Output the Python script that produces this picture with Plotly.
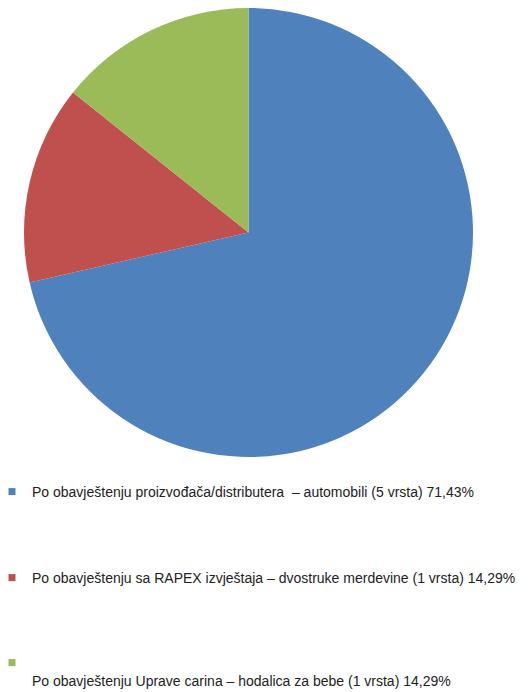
import plotly.graph_objects as go

labels = [
    "Po obavještenju proizvođača/distributera  – automobili (5 vrsta) 71,43%",
    "Po obavještenju sa RAPEX izvještaja – dvostruke merdevine (1 vrsta) 14,29%",
    "Po obavještenju Uprave carina – hodalica za bebe (1 vrsta) 14,29%",
]
values = [5, 1, 1]
colors = ["#4F81BD", "#C0504D", "#9BBB59"]

# the page adds an 8px body margin, so the figure is sized to fit the window
W, H = 522, 684
fig = go.Figure()

fig.add_trace(go.Pie(
    labels=labels,
    values=values,
    marker=dict(colors=colors, line=dict(width=0)),
    sort=False,
    direction="clockwise",
    rotation=0,
    textinfo="none",
    hoverinfo="label+percent",
    showlegend=False,
    domain=dict(x=[14/W, 467/W], y=[1-449/H, 1.0]),
))

# legend entries (one legend each, so they can be placed like the original)
legend_names = ["legend", "legend2", "legend3"]
legend_texts = [labels[0], labels[1], " <br>" + labels[2]]
legend_y = [484, 570, 664]
for name, txt, col in zip(legend_names, legend_texts, colors):
    fig.add_trace(go.Scatter(
        x=[None], y=[None], mode="markers", name=txt,
        marker=dict(symbol="square", size=7, color=col),
        legend=name, showlegend=True, hoverinfo="skip",
    ))

leg_common = dict(
    xanchor="left", yanchor="middle", orientation="v", valign="top",
    font=dict(family="Liberation Sans, Arial, sans-serif", size=14, color="#222222"),
    itemclick=False, itemdoubleclick=False, bgcolor="rgba(0,0,0,0)",
)
layout_legends = {}
for name, yy in zip(legend_names, legend_y):
    layout_legends[name] = dict(x=-16/W, y=1-yy/H, **leg_common)

fig.update_layout(
    width=W, height=H,
    margin=dict(l=0, r=0, t=0, b=0, autoexpand=False),
    paper_bgcolor="white",
    plot_bgcolor="white",
    xaxis=dict(visible=False),
    yaxis=dict(visible=False),
    **layout_legends,
)

fig.write_html("out.html")
